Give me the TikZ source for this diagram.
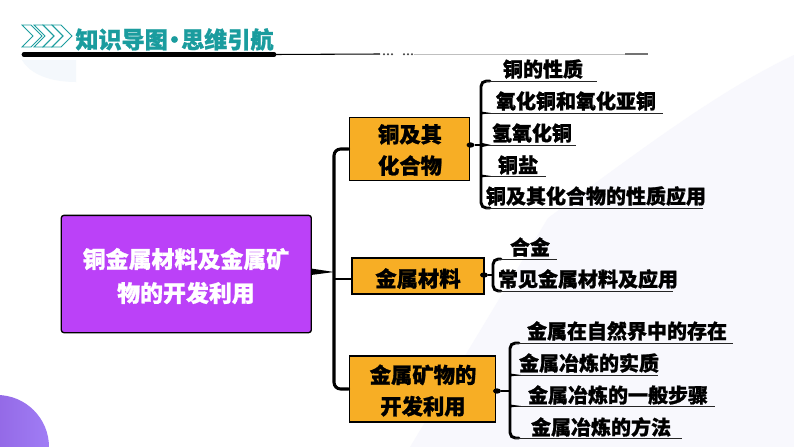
\documentclass[tikz,border=0pt]{standalone}
\usepackage{fontspec}
\setmainfont{Noto Sans CJK SC}[BoldFeatures={FakeBold=1.1}]
\usetikzlibrary{shapes.geometric}
\definecolor{orangebox}{HTML}{F7AE25}
\definecolor{purplebox}{HTML}{BB41F8}
\definecolor{teal1}{HTML}{1A9C9E}
\definecolor{backdrop}{HTML}{F8F8FD}
\definecolor{blob}{HTML}{F4F8FC}
\definecolor{circL}{HTML}{8755D7}
\definecolor{circR}{HTML}{A07DF5}
\tikzset{
  x=0.75pt,y=-0.75pt,
  rootbox/.style={draw=black,line width=1pt,fill=purplebox,rounded corners=2pt,minimum width=187.5pt,minimum height=88pt,inner sep=0},
  roottext/.style={inner sep=0,align=center,text=white,font=\fontsize{17.2}{25.5}\selectfont\bfseries},
  catbox/.style={draw=black,line width=0.9pt,fill=orangebox,inner sep=0},
  cattext/.style={inner sep=0,align=center,font=\fontsize{16}{23.5}\selectfont\bfseries},
  leaf/.style={inner sep=0,font=\fontsize{15}{18}\selectfont\bfseries,text=black},
  bracket/.style={line width=2.2pt,line cap=round,rounded corners=4pt},
  trunk/.style={line width=2.3pt,line cap=round,rounded corners=5pt},
  under/.style={line width=0.7pt,draw=black!85},
  knot/.style={ellipse,fill=black,inner sep=0,minimum width=6pt,minimum height=4pt},
  chev/.style={draw=teal1,line width=0.6pt,line join=miter},
}
\begin{document}
\begin{tikzpicture}
\useasboundingbox (0,0) rectangle (794,447);
\fill[white] (0,0) rectangle (794,447);
% backdrop
\fill[backdrop] (410,447) -- (548,218) .. controls (640,150) and (720,90) .. (794,55) -- (794,447) -- cycle;
\begin{scope}
\clip (0,0) rectangle (794,447);
\shade[left color=circL,right color=circR] (-3,447) circle[radius=52];
\end{scope}
\fill[blob] (22,60) .. controls (30,74) and (50,82) .. (76,82) -- (76,60) -- cycle;
% header
\foreach \dx in {0,12,21,30}{
  \draw[chev] (22+\dx,25) -- (22+\dx+9,25) -- (22+\dx+20,36) -- (22+\dx+9,47) -- (22+\dx,47) -- (22+\dx+11,36) -- cycle;
}
\node[inner sep=0,text=teal1,font=\fontsize{17.3}{20}\selectfont\bfseries] (title) at (174.5,39.5) {知识导图\kern-3.6pt·\kern-3.6pt思维引航};
\coordinate (hA) at (24,54.5);
\coordinate (hB) at (274,54.5);
\coordinate (hC) at (380,54);
\coordinate (hE) at (625,54);
\coordinate (hF) at (648,54);
\draw[line width=3.6pt,line cap=round] (hA) -- (hB);
\draw[line width=0.8pt] (hB) -- (hC);
\foreach \px in {384,388,392,404,408,412}{\fill[black!75] (\px,54.3) circle[radius=1.1];}
\draw[line width=0.7pt,black!25] (414,54) -- (hE);
\draw[line width=1.8pt,black!55] (hE) -- (hF);
% boxes
\node[rootbox] (root) at (186.3,274) {};
\node[roottext] (roott) at (186,276) {铜金属材料及金属矿\\物的开发利用};
\node[catbox,minimum width=90.5pt,minimum height=47.5pt] (c1) at (409.5,149) {};
\node[cattext] (c1t) at (410,150) {铜及其\\化合物};
\node[catbox,minimum width=99pt,minimum height=27pt] (c2) at (418,276) {};
\node[cattext] (c2t) at (418,278.5) {金属材料};
\node[catbox,minimum width=110pt,minimum height=49.5pt] (c3) at (422.5,389) {};
\node[cattext] (c3t) at (423,390.5) {金属矿物的\\开发利用};
% leaves
\node[leaf] (a1) at (543,69) {铜的性质};
\node[leaf] (a2) at (576,101) {氧化铜和氧化亚铜};
\node[leaf] (a3) at (532,133) {氢氧化铜};
\node[leaf] (a4) at (518,165) {铜盐};
\node[leaf] (a5) at (596,196) {铜及其化合物的性质应用};
\node[leaf] (b1) at (530,247) {合金};
\node[leaf] (b2) at (588,279) {常见金属材料及应用};
\node[leaf] (d1) at (627,331) {金属在自然界中的存在};
\node[leaf] (d2) at (589,363) {金属冶炼的实质};
\node[leaf] (d3) at (618,395) {金属冶炼的一般步骤};
\node[leaf] (d4) at (601,427) {金属冶炼的方法};
% trunk
\coordinate (tr) at (334,272);
\coordinate (trb) at (334,279);
\coordinate (c2in) at (352,279);
\fill (311,268.5) -- (tr) -- (311,275) -- cycle;
\draw[trunk] (c1.west) -| (tr) |- (c3.west);
\draw[line width=2pt] (trb) -- (c2in);
% bracket 1
\coordinate (k1) at (481,145);
\node[knot] (n1) at (470.5,145) {};
\draw[line width=2pt] (n1) -- (k1);
\fill (480,142.5) -- (491,145) -- (480,147.5) -- cycle;
\draw[bracket] (490,81) -- (481,81) -- (481,208) -- (490,208);
\foreach \yy/\xe/\xb in {81/597/486,113/663/481,145/576/488,176/546/481,208/703/486}{
  \draw[under] (\xb,\yy) -- (\xe,\yy);
}
\fill (481,111.5) -- (491,113) -- (481,114.5) -- cycle;
\fill (481,174.5) -- (491,176) -- (481,177.5) -- cycle;
% bracket 2
\node[knot] (n2) at (484,275) {};
\draw[line width=2pt] (n2) -- (493,275);
\draw[bracket] (501,259) -- (493,259) -- (493,291) -- (501,291);
\draw[under] (498,259) -- (557,259);
\draw[under] (498,291) -- (673,291);
% bracket 3
\node[knot] (n3) at (497,391) {};
\draw[line width=2pt] (n3) -- (510,391);
\draw[bracket] (519,343) -- (510,343) -- (510,438) -- (519,438);
\foreach \yy/\xe/\xb in {343/733/515,375/658/510,406/715/510,438/682/515}{
  \draw[under] (\xb,\yy) -- (\xe,\yy);
}
\fill (510,373.5) -- (521,375) -- (510,376.5) -- cycle;
\fill (510,404.5) -- (521,406) -- (510,407.5) -- cycle;
\end{tikzpicture}
\end{document}
